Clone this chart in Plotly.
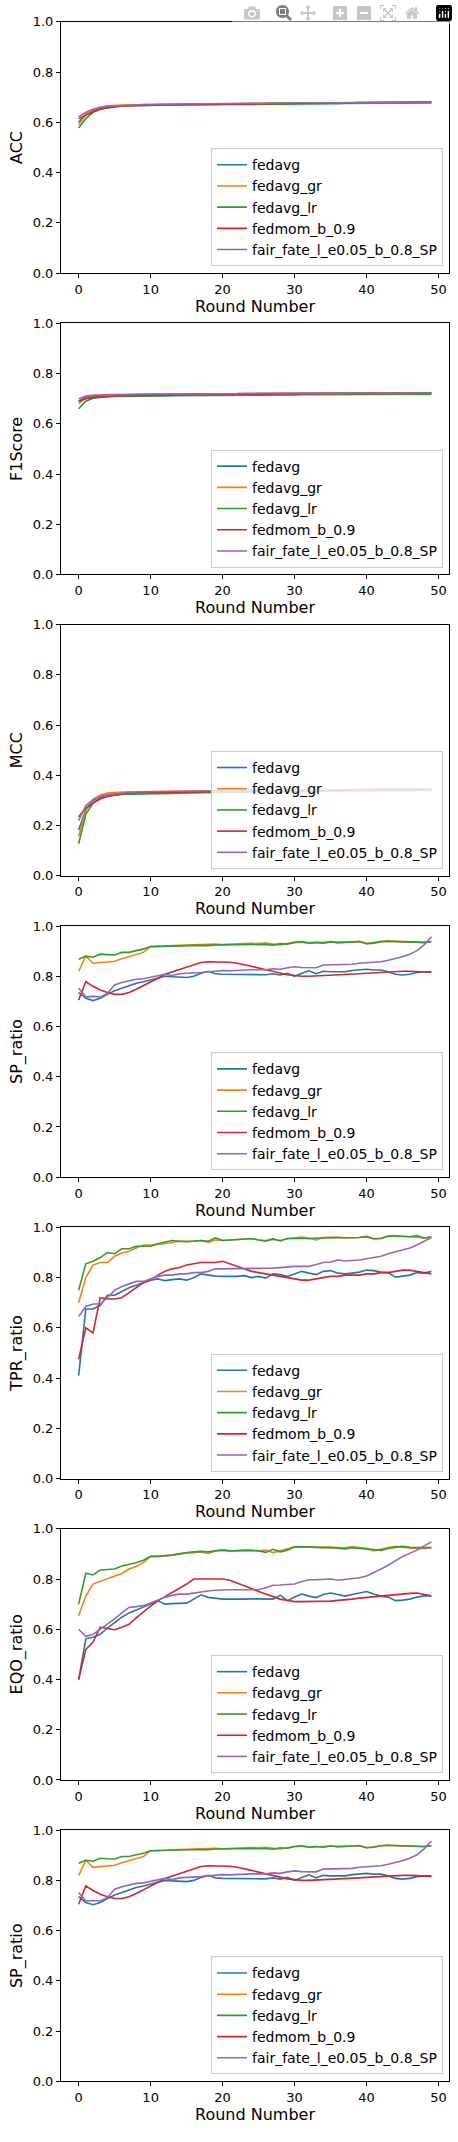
import plotly.graph_objects as go

rounds = list(range(50))
names = ["fedavg", "fedavg_gr", "fedavg_lr", "fedmom_b_0.9", "fair_fate_l_e0.05_b_0.8_SP"]
colors = ["#1f77b4", "#ff7f0e", "#2ca02c", "#d62728", "#9467bd"]
ylabels = ["ACC", "F1Score", "MCC", "SP_ratio", "TPR_ratio", "EQO_ratio", "SP_ratio"]

acc_fedavg = [0.600,0.632,0.648,0.656,0.661,0.665,0.667,0.668,0.669,0.670,0.670,0.671,0.671,0.672,0.672,0.672,0.673,0.673,0.673,0.674,0.674,0.674,0.675,0.675,0.675,0.675,0.676,0.676,0.676,0.677,0.677,0.677,0.678,0.678,0.678,0.678,0.678,0.679,0.679,0.679,0.679,0.679,0.680,0.680,0.680,0.680,0.680,0.680,0.680,0.680]
acc_gr = [0.590,0.630,0.650,0.660,0.666,0.668,0.669,0.670,0.670,0.671,0.671,0.671,0.672,0.672,0.672,0.673,0.673,0.673,0.673,0.674,0.674,0.674,0.674,0.675,0.675,0.675,0.675,0.676,0.676,0.676,0.676,0.676,0.677,0.677,0.677,0.677,0.678,0.678,0.678,0.678,0.678,0.679,0.679,0.679,0.679,0.679,0.680,0.680,0.680,0.680]
acc_lr = [0.578,0.615,0.640,0.652,0.658,0.662,0.664,0.666,0.667,0.667,0.667,0.668,0.668,0.668,0.669,0.669,0.669,0.670,0.670,0.670,0.671,0.671,0.671,0.671,0.672,0.672,0.672,0.672,0.673,0.673,0.673,0.673,0.674,0.674,0.674,0.674,0.674,0.675,0.675,0.675,0.675,0.676,0.676,0.676,0.676,0.676,0.677,0.677,0.677,0.677]
acc_mom = [0.615,0.630,0.642,0.652,0.658,0.662,0.665,0.666,0.667,0.668,0.669,0.669,0.670,0.670,0.670,0.671,0.671,0.671,0.671,0.672,0.672,0.672,0.673,0.673,0.673,0.674,0.674,0.675,0.675,0.675,0.676,0.676,0.676,0.677,0.677,0.677,0.678,0.678,0.678,0.679,0.679,0.679,0.680,0.680,0.680,0.681,0.681,0.681,0.681,0.681]
acc_ff = [0.622,0.640,0.652,0.660,0.664,0.666,0.668,0.669,0.670,0.671,0.671,0.672,0.672,0.673,0.673,0.673,0.674,0.674,0.674,0.675,0.675,0.675,0.675,0.676,0.676,0.676,0.676,0.677,0.677,0.677,0.678,0.678,0.678,0.678,0.678,0.679,0.679,0.679,0.679,0.679,0.679,0.679,0.680,0.680,0.680,0.680,0.680,0.680,0.680,0.678]

f1_fedavg = [0.690,0.705,0.710,0.712,0.714,0.715,0.715,0.716,0.716,0.716,0.717,0.717,0.717,0.717,0.718,0.718,0.718,0.718,0.718,0.719,0.719,0.719,0.719,0.719,0.719,0.720,0.720,0.720,0.720,0.720,0.720,0.720,0.721,0.721,0.721,0.721,0.721,0.721,0.721,0.721,0.722,0.722,0.722,0.722,0.722,0.722,0.722,0.722,0.722,0.722]
f1_gr = [0.680,0.703,0.712,0.715,0.716,0.716,0.716,0.716,0.716,0.717,0.717,0.717,0.717,0.717,0.717,0.718,0.718,0.718,0.718,0.718,0.718,0.719,0.719,0.719,0.719,0.719,0.719,0.720,0.720,0.720,0.720,0.720,0.720,0.720,0.721,0.721,0.721,0.721,0.721,0.721,0.721,0.721,0.722,0.722,0.722,0.722,0.722,0.722,0.722,0.722]
f1_lr = [0.660,0.690,0.702,0.706,0.708,0.709,0.709,0.710,0.710,0.710,0.711,0.711,0.711,0.712,0.712,0.712,0.712,0.713,0.713,0.713,0.713,0.714,0.714,0.714,0.714,0.714,0.715,0.715,0.715,0.715,0.715,0.716,0.716,0.716,0.716,0.716,0.717,0.717,0.717,0.717,0.717,0.717,0.718,0.718,0.718,0.718,0.718,0.718,0.718,0.718]
f1_mom = [0.690,0.700,0.705,0.708,0.710,0.711,0.712,0.712,0.713,0.713,0.714,0.714,0.715,0.715,0.715,0.716,0.716,0.716,0.716,0.717,0.717,0.717,0.717,0.718,0.718,0.718,0.718,0.719,0.719,0.719,0.719,0.720,0.720,0.720,0.720,0.720,0.721,0.721,0.721,0.721,0.721,0.722,0.722,0.722,0.722,0.722,0.722,0.722,0.722,0.722]
f1_ff = [0.700,0.710,0.713,0.714,0.715,0.716,0.716,0.717,0.717,0.717,0.718,0.718,0.718,0.718,0.719,0.719,0.719,0.719,0.720,0.720,0.720,0.720,0.720,0.721,0.721,0.721,0.721,0.721,0.721,0.722,0.722,0.722,0.722,0.722,0.722,0.723,0.723,0.723,0.723,0.723,0.723,0.723,0.724,0.724,0.724,0.724,0.724,0.724,0.724,0.722]

mcc_fedavg = [0.183,0.265,0.300,0.316,0.324,0.328,0.330,0.332,0.333,0.333,0.334,0.334,0.335,0.335,0.336,0.336,0.338,0.337,0.337,0.337,0.338,0.338,0.338,0.339,0.339,0.339,0.340,0.340,0.340,0.340,0.341,0.341,0.341,0.341,0.342,0.342,0.342,0.342,0.343,0.343,0.343,0.343,0.344,0.344,0.344,0.344,0.345,0.345,0.345,0.345]
mcc_gr = [0.157,0.260,0.305,0.322,0.330,0.333,0.334,0.335,0.335,0.335,0.336,0.336,0.336,0.337,0.337,0.337,0.337,0.338,0.338,0.338,0.338,0.339,0.339,0.339,0.339,0.340,0.340,0.340,0.341,0.341,0.341,0.341,0.342,0.342,0.342,0.343,0.343,0.343,0.343,0.344,0.344,0.344,0.345,0.345,0.345,0.345,0.346,0.346,0.346,0.346]
mcc_lr = [0.128,0.245,0.290,0.310,0.318,0.322,0.324,0.325,0.325,0.325,0.326,0.326,0.327,0.328,0.329,0.330,0.330,0.331,0.331,0.332,0.332,0.333,0.333,0.333,0.334,0.334,0.335,0.335,0.335,0.336,0.336,0.336,0.337,0.337,0.337,0.338,0.338,0.338,0.339,0.339,0.339,0.340,0.340,0.340,0.340,0.341,0.341,0.341,0.341,0.341]
mcc_mom = [0.235,0.270,0.290,0.306,0.316,0.322,0.326,0.329,0.330,0.331,0.332,0.332,0.333,0.333,0.333,0.334,0.334,0.334,0.335,0.335,0.335,0.336,0.336,0.336,0.337,0.337,0.337,0.338,0.338,0.338,0.339,0.339,0.339,0.340,0.340,0.340,0.341,0.341,0.341,0.342,0.342,0.342,0.343,0.343,0.343,0.344,0.344,0.344,0.344,0.344]
mcc_ff = [0.220,0.280,0.303,0.315,0.322,0.326,0.329,0.332,0.334,0.334,0.335,0.336,0.336,0.337,0.337,0.338,0.338,0.338,0.339,0.339,0.339,0.340,0.340,0.340,0.341,0.341,0.341,0.342,0.342,0.342,0.342,0.343,0.343,0.343,0.343,0.344,0.344,0.344,0.344,0.345,0.345,0.345,0.345,0.346,0.346,0.346,0.346,0.347,0.347,0.338]

sp_fedavg = [0.735,0.712,0.703,0.712,0.728,0.742,0.752,0.762,0.772,0.778,0.785,0.792,0.800,0.798,0.796,0.795,0.800,0.812,0.820,0.810,0.808,0.808,0.808,0.807,0.807,0.806,0.806,0.810,0.805,0.812,0.800,0.812,0.822,0.810,0.820,0.818,0.817,0.818,0.823,0.825,0.828,0.825,0.825,0.818,0.808,0.805,0.808,0.815,0.818,0.818]
sp_gr = [0.820,0.880,0.852,0.855,0.856,0.860,0.870,0.878,0.885,0.895,0.918,0.918,0.920,0.922,0.923,0.924,0.924,0.925,0.926,0.928,0.926,0.928,0.930,0.930,0.931,0.930,0.932,0.928,0.925,0.930,0.935,0.936,0.931,0.934,0.935,0.937,0.938,0.937,0.936,0.939,0.930,0.935,0.938,0.940,0.938,0.936,0.937,0.935,0.934,0.938]
sp_lr = [0.868,0.880,0.876,0.888,0.886,0.885,0.895,0.895,0.902,0.908,0.918,0.919,0.920,0.921,0.919,0.922,0.922,0.923,0.922,0.925,0.925,0.926,0.925,0.926,0.927,0.926,0.927,0.924,0.930,0.928,0.935,0.938,0.933,0.935,0.932,0.938,0.933,0.935,0.937,0.938,0.930,0.932,0.938,0.940,0.939,0.938,0.937,0.936,0.935,0.938]
sp_mom = [0.705,0.778,0.760,0.745,0.735,0.728,0.728,0.735,0.748,0.762,0.778,0.792,0.808,0.818,0.828,0.838,0.848,0.855,0.858,0.858,0.858,0.856,0.852,0.847,0.840,0.833,0.826,0.820,0.812,0.806,0.803,0.800,0.800,0.801,0.802,0.803,0.805,0.806,0.808,0.810,0.812,0.814,0.816,0.818,0.820,0.820,0.820,0.819,0.817,0.816]
sp_ff = [0.752,0.718,0.720,0.718,0.732,0.765,0.775,0.782,0.788,0.790,0.795,0.803,0.808,0.803,0.810,0.812,0.812,0.815,0.818,0.822,0.823,0.822,0.824,0.826,0.826,0.826,0.826,0.830,0.828,0.834,0.838,0.835,0.836,0.834,0.845,0.845,0.846,0.845,0.848,0.852,0.855,0.855,0.858,0.864,0.870,0.878,0.888,0.902,0.925,0.957]

tpr_fedavg = [0.410,0.675,0.675,0.690,0.730,0.730,0.745,0.760,0.770,0.780,0.790,0.795,0.788,0.792,0.795,0.790,0.800,0.815,0.810,0.806,0.805,0.804,0.805,0.808,0.800,0.805,0.798,0.815,0.812,0.805,0.815,0.825,0.818,0.812,0.825,0.828,0.818,0.815,0.818,0.822,0.830,0.828,0.822,0.820,0.802,0.805,0.810,0.820,0.818,0.825]
tpr_gr = [0.700,0.800,0.850,0.860,0.860,0.885,0.898,0.905,0.918,0.930,0.930,0.932,0.935,0.940,0.945,0.942,0.945,0.948,0.940,0.950,0.948,0.950,0.952,0.955,0.955,0.950,0.948,0.952,0.948,0.955,0.958,0.962,0.958,0.950,0.960,0.960,0.962,0.958,0.958,0.960,0.965,0.955,0.955,0.965,0.968,0.965,0.962,0.962,0.958,0.962]
tpr_lr = [0.750,0.855,0.865,0.880,0.900,0.895,0.915,0.915,0.925,0.925,0.925,0.935,0.940,0.948,0.945,0.945,0.946,0.948,0.945,0.958,0.948,0.950,0.952,0.956,0.956,0.950,0.945,0.955,0.946,0.956,0.957,0.957,0.955,0.958,0.958,0.958,0.958,0.958,0.958,0.960,0.962,0.955,0.957,0.966,0.965,0.964,0.963,0.967,0.958,0.962]
tpr_mom = [0.475,0.600,0.580,0.720,0.715,0.715,0.720,0.740,0.760,0.780,0.790,0.810,0.825,0.835,0.840,0.850,0.855,0.860,0.860,0.860,0.865,0.855,0.845,0.835,0.825,0.820,0.815,0.810,0.805,0.800,0.795,0.790,0.790,0.795,0.800,0.805,0.805,0.810,0.810,0.810,0.815,0.815,0.820,0.820,0.825,0.830,0.830,0.825,0.820,0.815]
tpr_ff = [0.645,0.685,0.695,0.695,0.720,0.750,0.765,0.775,0.785,0.785,0.795,0.805,0.810,0.810,0.815,0.815,0.820,0.820,0.825,0.835,0.835,0.835,0.835,0.835,0.835,0.835,0.835,0.838,0.840,0.843,0.845,0.845,0.845,0.852,0.860,0.862,0.870,0.866,0.868,0.870,0.875,0.880,0.885,0.895,0.902,0.910,0.918,0.930,0.945,0.960]

eqo_fedavg = [0.400,0.562,0.568,0.580,0.605,0.628,0.648,0.665,0.676,0.687,0.700,0.713,0.700,0.702,0.703,0.704,0.720,0.737,0.727,0.722,0.720,0.720,0.719,0.720,0.721,0.720,0.719,0.720,0.736,0.714,0.728,0.740,0.732,0.726,0.738,0.744,0.738,0.732,0.738,0.744,0.750,0.740,0.732,0.728,0.714,0.716,0.720,0.728,0.733,0.733]
eqo_gr = [0.654,0.733,0.780,0.790,0.800,0.812,0.822,0.840,0.850,0.865,0.890,0.890,0.892,0.895,0.900,0.905,0.905,0.908,0.902,0.912,0.915,0.912,0.913,0.915,0.914,0.912,0.915,0.905,0.912,0.920,0.928,0.928,0.928,0.925,0.928,0.926,0.925,0.924,0.928,0.925,0.922,0.912,0.920,0.925,0.930,0.926,0.924,0.922,0.922,0.925]
eqo_lr = [0.700,0.823,0.816,0.836,0.838,0.840,0.852,0.858,0.865,0.875,0.890,0.890,0.892,0.895,0.900,0.905,0.908,0.910,0.908,0.912,0.915,0.912,0.913,0.915,0.914,0.912,0.906,0.918,0.908,0.915,0.928,0.928,0.926,0.924,0.925,0.926,0.922,0.920,0.925,0.922,0.920,0.918,0.914,0.922,0.926,0.930,0.926,0.925,0.925,0.925]
eqo_mom = [0.400,0.520,0.549,0.608,0.603,0.598,0.608,0.620,0.645,0.670,0.692,0.713,0.730,0.746,0.762,0.780,0.800,0.800,0.800,0.802,0.800,0.795,0.785,0.773,0.762,0.750,0.740,0.730,0.720,0.715,0.710,0.710,0.710,0.710,0.710,0.712,0.715,0.717,0.720,0.724,0.727,0.730,0.733,0.736,0.740,0.742,0.743,0.744,0.740,0.733]
eqo_ff = [0.600,0.571,0.580,0.600,0.620,0.641,0.665,0.687,0.690,0.694,0.705,0.717,0.727,0.735,0.740,0.740,0.745,0.750,0.752,0.755,0.757,0.757,0.757,0.757,0.757,0.757,0.765,0.775,0.776,0.778,0.780,0.790,0.797,0.797,0.798,0.800,0.795,0.798,0.800,0.805,0.812,0.825,0.840,0.855,0.872,0.890,0.902,0.915,0.932,0.948]

panels = [
    [acc_fedavg, acc_gr, acc_lr, acc_mom, acc_ff],
    [f1_fedavg, f1_gr, f1_lr, f1_mom, f1_ff],
    [mcc_fedavg, mcc_gr, mcc_lr, mcc_mom, mcc_ff],
    [sp_fedavg, sp_gr, sp_lr, sp_mom, sp_ff],
    [tpr_fedavg, tpr_gr, tpr_lr, tpr_mom, tpr_ff],
    [eqo_fedavg, eqo_gr, eqo_lr, eqo_mom, eqo_ff],
    [sp_fedavg, sp_gr, sp_lr, sp_mom, sp_ff],
]

W, H = 458, 2142
X0, X1 = 61, 449
TOP0, STEP, AH = 15, 303.5, 253
fig = go.Figure()
layout = dict(width=W, height=H, margin=dict(l=0, r=0, t=0, b=0),
              paper_bgcolor="white", plot_bgcolor="white",
              font=dict(family="DejaVu Sans", size=13, color="black"))
for i, series in enumerate(panels):
    k = "" if i == 0 else str(i + 1)
    top = TOP0 + STEP * i
    bot = top + AH
    lg = "legend" + k
    for j, ys in enumerate(series):
        fig.add_trace(go.Scatter(x=rounds, y=ys, mode="lines", name=names[j],
                                 line=dict(color=colors[j], width=1.6),
                                 xaxis="x" + k, yaxis="y" + k, legend=lg))
    ax = dict(showline=True, mirror=True, linecolor="black", linewidth=1,
              ticks="outside", ticklen=4, tickcolor="black", showgrid=False, zeroline=False)
    layout["xaxis" + k] = dict(ax, domain=[X0 / W, X1 / W], anchor="y" + k,
                               range=[-2.45, 51.45], tickvals=[0, 10, 20, 30, 40, 50],
                               title=dict(text="Round Number", standoff=4))
    layout["yaxis" + k] = dict(ax, domain=[1 - bot / H, 1 - top / H], anchor="x" + k,
                               range=[0, 1], tickvals=[0, 0.2, 0.4, 0.6, 0.8, 1.0],
                               tickformat=".1f", title=dict(text=ylabels[i], standoff=6))
    layout[lg] = dict(x=443 / W, y=1 - (bot - 7) / H, xanchor="right", yanchor="bottom",
                      bgcolor="rgba(255,255,255,0.8)", bordercolor="#cccccc", borderwidth=1,
                      font=dict(size=14), tracegroupgap=0, itemwidth=30)
fig.update_layout(**layout)
fig.write_html("out.html",
               post_script="document.body.style.margin='0';document.body.style.overflow='hidden';")
